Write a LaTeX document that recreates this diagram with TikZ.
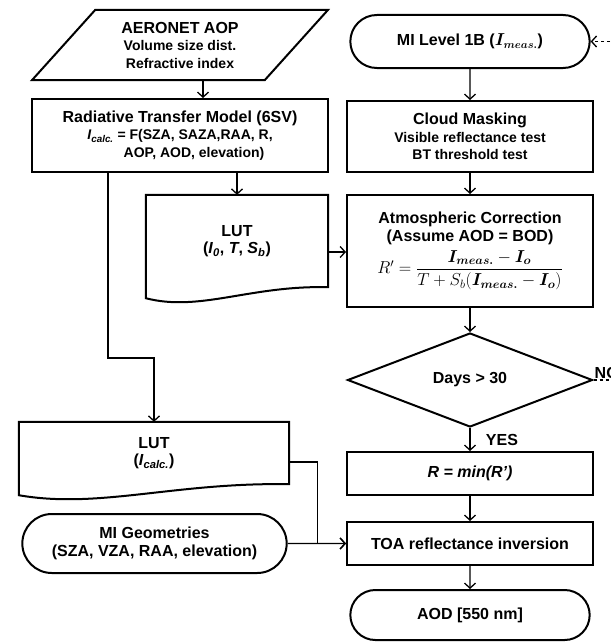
\documentclass[tikz,border=0pt]{standalone}
\usepackage{amsmath}
\usepackage{fontspec}
\setmainfont{Liberation Sans}
\usetikzlibrary{shapes.geometric, shapes.misc, arrows.meta}
\newcommand{\smalltxt}{\fontsize{14}{16.5}\selectfont}

\begin{document}
\begin{tikzpicture}[
          x=1pt, y=-1pt,
          font=\bfseries\fontsize{16}{17.5}\selectfont,
          box/.style={draw, line width=2pt, rectangle, minimum width=246pt, align=center, inner sep=2pt},
          terminal/.style={draw, line width=2pt, rounded rectangle, minimum width=246pt, align=center},
          doc/.style={rectangle, align=center, inner sep=2pt},
          arr/.style={line width=1.3pt, -{Straight Barb[length=5pt,width=11pt]}},
      ]

      % Khung hình của cả sơ đồ
      \useasboundingbox (0,0) rectangle (610,642);

      % Cột bên phải: chuỗi xử lý chính
      \node[terminal, minimum height=53pt] (mi1b) at (470,41.5) {MI Level 1B ($\boldsymbol{I_{meas.}}$)};
      \node[box, minimum height=71pt] (cloud) at (470,136.5) {Cloud Masking\\{\smalltxt Visible reflectance test}\\{\smalltxt BT threshold test}};
      \node[box, minimum height=112pt] (atm) at (470,251) {Atmospheric Correction\\(Assume AOD = BOD)\\[5pt]
          {\fontsize{17}{19}\selectfont $R' = \dfrac{\boldsymbol{I_{meas.}} - \boldsymbol{I_o}}{T + S_b(\boldsymbol{I_{meas.}} - \boldsymbol{I_o})}$}};
      \node[diamond, draw, line width=2pt, minimum width=245pt, minimum height=94pt, inner sep=0pt] (days) at (470,380) {Days > 30};
      \node[box, minimum height=43pt] (rmin) at (470,473.5) {\itshape R = min(R')};
      \node[box, minimum height=43pt] (toa) at (470,543.5) {TOA reflectance inversion};
      \node[terminal, minimum height=50pt] (aod) at (470,615) {AOD [550 nm]};

      % Cột bên trái: dữ liệu đầu vào và LUT
      \node[trapezium, draw, line width=2pt, trapezium left angle=49, trapezium right angle=131,
          trapezium stretches, minimum width=296pt, minimum height=70pt, align=center] (aeronet) at (180,45)
          {AERONET AOP\\{\smalltxt Volume size dist.}\\{\smalltxt Refractive index}};
      \node[box, minimum width=296pt, minimum height=73pt] (rt) at (180,135.5) {Radiative Transfer Model (6SV)\\
          {\smalltxt \textit{I}\textsubscript{\textit{calc.}} = F(SZA, SAZA,RAA, R,}\\{\smalltxt\hspace*{28pt}AOP, AOD, elevation)}};
      \node[doc, minimum width=182pt, minimum height=92pt] (lut1) at (237,241)
          {LUT\\(\textit{I}\textsubscript{\textit{0}}, \textit{T}, \textit{S}\textsubscript{\textit{b}})};
      \node[doc, minimum width=270pt, minimum height=62pt] (lut2) at (154,453) {LUT\\(\textit{I}\textsubscript{\textit{calc.}})};
      \node[terminal, minimum width=271pt, minimum height=59pt] (geo) at (154.5,543.5) {MI Geometries\\(SZA, VZA, RAA, elevation)};

      % Viền dạng tài liệu (đáy lượn sóng) cho hai LUT
      \draw[line width=2pt] ([yshift=-11pt]lut1.south west) -- (lut1.north west) -- (lut1.north east) -- (lut1.south east)
          .. controls +(-78,-2) and +(54,14) .. ([yshift=-11pt]lut1.south west) -- cycle;
      \draw[line width=2pt] ([yshift=-11pt]lut2.south west) -- (lut2.north west) -- (lut2.north east) -- (lut2.south east)
          .. controls +(-115,-2) and +(80,14) .. ([yshift=-11pt]lut2.south west) -- cycle;

      % Các mũi tên nối
      \draw[arr] ([xshift=23pt]aeronet.south) -- ([xshift=23pt]aeronet.south |- rt.north);
      \draw[arr] (rt.south -| lut1.north) -- (lut1.north);
      \draw[arr] ([xshift=77pt]rt.south west) -- ++(0,185) -| (lut2.north);
      \draw[arr] (mi1b) -- (cloud);
      \draw[arr] (cloud) -- (atm);
      \draw[arr] ([yshift=-11pt]lut1.east) -- ([yshift=-11pt]lut1.east -| atm.west);
      \draw[arr] (atm) -- (days);
      \draw[arr] (days) -- node[right=12pt] {YES} (rmin);
      \draw[arr] (rmin) -- (toa);
      \draw[arr] (toa) -- (aod);
      \draw[arr] ([yshift=-9pt]lut2.east) -- ++(28,0) |- (toa.west);
      \draw[arr] (geo) -- (toa);

      % Vòng lặp khi không đủ số ngày
      \draw[arr, dashed] (days.east) -- ++(40,0) |- (mi1b.east);
      \node[above right, inner sep=1pt] (no) at (days.east) {NO};

      \end{tikzpicture}
\end{document}
